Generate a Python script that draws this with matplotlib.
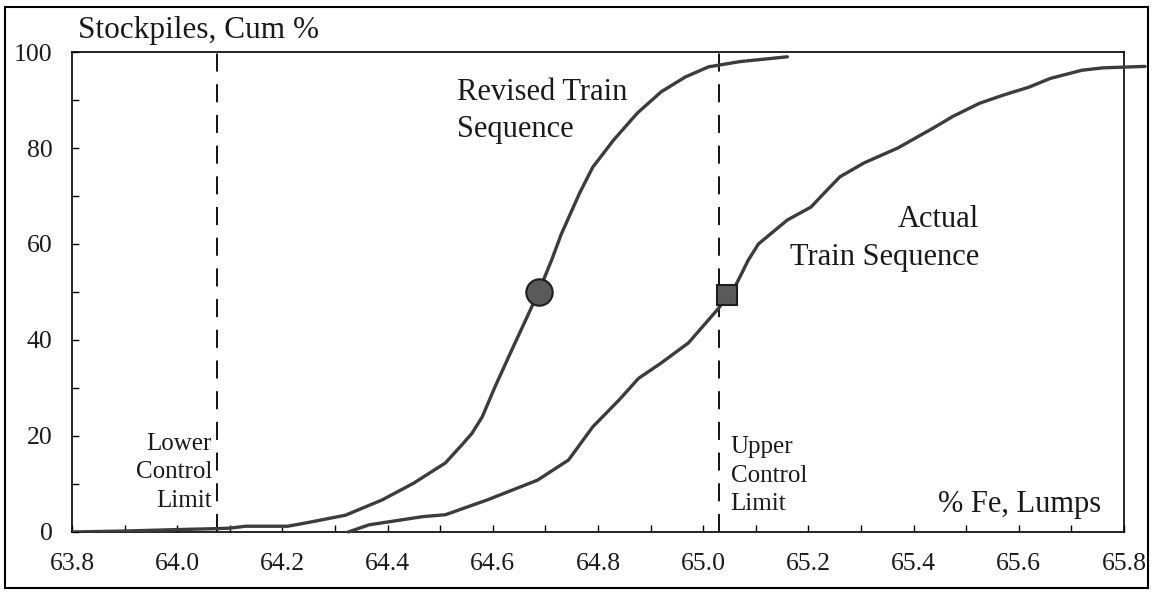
import matplotlib
matplotlib.use("Agg")
import matplotlib.pyplot as plt
from matplotlib.patches import Rectangle
from matplotlib.ticker import MultipleLocator

plt.rcParams['font.family'] = ['Liberation Serif', 'DejaVu Serif']

# Revised train sequence, cumulative % of stockpiles vs % Fe
revised_fe = [63.80, 63.90, 64.00, 64.075, 64.10, 64.13, 64.21, 64.25, 64.32, 64.39,
              64.45, 64.51, 64.54, 64.56, 64.58, 64.604, 64.636, 64.674, 64.687, 64.712,
              64.73, 64.765, 64.79, 64.83, 64.875, 64.92, 64.966, 65.01, 65.07, 65.16]
revised_cum = [0.0, 0.2, 0.5, 0.7, 0.8, 1.2, 1.2, 2.0, 3.5, 6.7,
               10.2, 14.4, 18.0, 20.5, 24.0, 30.2, 37.9, 46.9, 50.0, 56.7,
               62.0, 70.6, 76.0, 81.7, 87.3, 91.7, 94.8, 96.9, 98.0, 99.0]

# Actual train sequence
actual_fe = [64.325, 64.365, 64.395, 64.467, 64.51, 64.59, 64.685, 64.744, 64.79, 64.84,
             64.877, 64.92, 64.972, 65.03, 65.046, 65.06, 65.086, 65.105, 65.16, 65.205,
             65.23, 65.26, 65.306, 65.37, 65.43, 65.455, 65.475, 65.525, 65.57, 65.62,
             65.66, 65.72, 65.76, 65.84]
actual_cum = [0.0, 1.5, 2.0, 3.2, 3.6, 6.7, 10.8, 15.0, 21.9, 27.5,
              32.0, 35.2, 39.4, 46.7, 49.4, 51.0, 56.7, 60.0, 65.0, 67.7,
              70.6, 74.0, 76.9, 80.0, 83.7, 85.3, 86.6, 89.3, 91.0, 92.7,
              94.5, 96.2, 96.7, 97.0]

# median points
revised_median = (64.687, 50.0)
actual_median = (65.046, 49.4)

lower_limit = 64.075
upper_limit = 65.03

x_ticks = [63.8, 64.0, 64.2, 64.4, 64.6, 64.8, 65.0, 65.2, 65.4, 65.6, 65.8]
y_ticks = [0, 20, 40, 60, 80, 100]

fig = plt.figure(figsize=(11.56, 5.95), dpi=100)
ax = fig.add_axes([0.0623, 0.1059, 0.9100, 0.8067])

line_col = '#3c3c3c'
ax.plot(revised_fe, revised_cum, color=line_col, lw=2.4, solid_capstyle='round',
        solid_joinstyle='round', zorder=3)
ax.plot(actual_fe, actual_cum, color=line_col, lw=2.4, solid_capstyle='round',
        solid_joinstyle='round', clip_on=False, zorder=3)

ax.plot(*revised_median, marker='o', ms=19, mfc='#5a5a5a', mec='#1e1e1e', mew=1.5, zorder=4)
ax.plot(*actual_median, marker='s', ms=14, mfc='#5a5a5a', mec='#1e1e1e', mew=1.5, zorder=4)

for xv in (lower_limit, upper_limit):
    ax.plot([xv, xv], [0, 100], color='black', lw=1.3, dashes=(10, 7), zorder=2)

ax.set_xlim(63.8, 65.8)
ax.set_ylim(0, 100)
ax.set_xticks(x_ticks)
ax.set_xticklabels([f"{v:.1f}" for v in x_ticks])
ax.set_yticks(y_ticks)
ax.xaxis.set_minor_locator(MultipleLocator(0.1))
ax.yaxis.set_minor_locator(MultipleLocator(10))
ax.tick_params(which='both', direction='in', length=5, width=1.0, labelsize=18.5,
               labelcolor='#1a1a1a')
ax.tick_params(axis='x', pad=15)
ax.tick_params(axis='y', pad=14)
for s in ax.spines.values():
    s.set_linewidth(1.2)

txt = dict(fontsize=22, color='#1a1a1a', va='baseline')
ax.text(64.531, 90.0, "Revised Train", ha='left', **txt)
ax.text(64.531, 82.3, "Sequence", ha='left', **txt)
ax.text(65.525, 63.5, "Actual", ha='right', **txt)
ax.text(65.525, 55.6, "Train Sequence", ha='right', **txt)
ax.text(65.756, 4.2, "% Fe, Lumps", ha='right', **txt)

small = dict(fontsize=18, color='#1a1a1a', va='baseline')
for label, yv in zip(["Lower", "Control", "Limit"], [17.1, 11.25, 5.2]):
    ax.text(64.066, yv, label, ha='right', **small)
for label, yv in zip(["Upper", "Control", "Limit"], [16.5, 10.4, 4.6]):
    ax.text(65.052, yv, label, ha='left', **small)

fig.text(78 / 1156, 1 - 38 / 595, "Stockpiles, Cum %", fontsize=22.5,
         ha='left', va='baseline', color='#1a1a1a')

# outer frame around the whole figure
fig.patches.append(Rectangle((5 / 1156, 7 / 595), 1143 / 1156, 581 / 595,
                             transform=fig.transFigure, fill=False,
                             edgecolor='black', lw=1.5))

fig.savefig("out.png", dpi=100)
